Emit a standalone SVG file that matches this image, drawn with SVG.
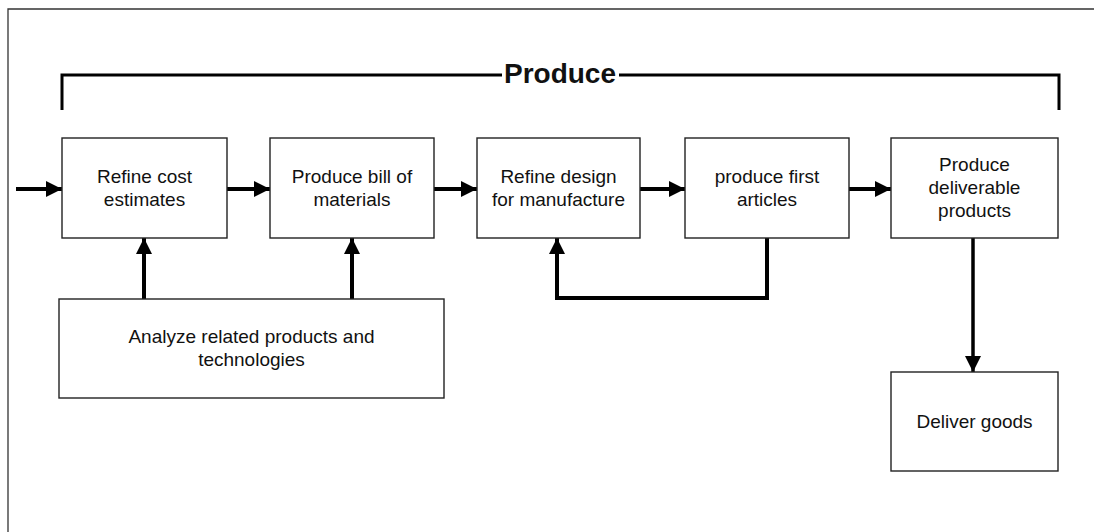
<svg xmlns="http://www.w3.org/2000/svg" width="1094" height="532" viewBox="0 0 1094 532">
<style>
.box{fill:#fff;stroke:#222;stroke-width:1.4}
.t{font-family:"Liberation Sans",Arial,Helvetica,sans-serif;font-size:19px;fill:#111;text-anchor:middle}
.title{font-family:"Liberation Sans",Arial,Helvetica,sans-serif;font-size:28px;font-weight:bold;fill:#111;text-anchor:middle}
.conn{fill:none;stroke:#000;stroke-width:4}
.frame{fill:none;stroke:#333;stroke-width:1.3}
.bracket{fill:none;stroke:#000;stroke-width:3}
</style>
<defs>
<marker id="ah" markerUnits="userSpaceOnUse" markerWidth="17" markerHeight="17" refX="16" refY="8" orient="auto" viewBox="0 0 17 17">
<path d="M0,0 L16,8 L0,16 Z" fill="#000"/>
</marker>
</defs>
<rect width="1094" height="532" fill="#fff"/>
<g id="frame">
<path class="frame" d="M8,532 L8,9 L1094,9"/>
</g>
<g id="produce-bracket">
<path class="bracket" d="M62,110 L62,75 L502,75"/>
<path class="bracket" d="M619,75 L1059,75 L1059,110"/>
<text class="title" x="560" y="83">Produce</text>
</g>
<g id="connectors">
<line class="conn" x1="16" y1="189" x2="62" y2="189" marker-end="url(#ah)"/>
<line class="conn" x1="227" y1="189" x2="270" y2="189" marker-end="url(#ah)"/>
<line class="conn" x1="434" y1="189" x2="477" y2="189" marker-end="url(#ah)"/>
<line class="conn" x1="640" y1="189" x2="685" y2="189" marker-end="url(#ah)"/>
<line class="conn" x1="849" y1="189" x2="891" y2="189" marker-end="url(#ah)"/>
<line class="conn" x1="144" y1="299" x2="144" y2="238" marker-end="url(#ah)"/>
<line class="conn" x1="352" y1="299" x2="352" y2="238" marker-end="url(#ah)"/>
<path class="conn" d="M767,238 L767,298 L557,298 L557,238" marker-end="url(#ah)"/>
<line class="conn" x1="973" y1="238" x2="973" y2="372" marker-end="url(#ah)" style="stroke-width:3.5"/>
</g>
<g id="refine-cost">
<rect class="box" x="62" y="138" width="165" height="100"/>
<text class="t" x="144.5" y="183">Refine cost</text>
<text class="t" x="144.5" y="206">estimates</text>
</g>
<g id="bill-of-materials">
<rect class="box" x="270" y="138" width="164" height="100"/>
<text class="t" x="352" y="183">Produce bill of</text>
<text class="t" x="352" y="206">materials</text>
</g>
<g id="refine-design">
<rect class="box" x="477" y="138" width="163" height="100"/>
<text class="t" x="558.5" y="183">Refine design</text>
<text class="t" x="558.5" y="206">for manufacture</text>
</g>
<g id="first-articles">
<rect class="box" x="685" y="138" width="164" height="100"/>
<text class="t" x="767" y="183">produce first</text>
<text class="t" x="767" y="206">articles</text>
</g>
<g id="deliverable-products">
<rect class="box" x="891" y="138" width="167" height="100"/>
<text class="t" x="974.5" y="171">Produce</text>
<text class="t" x="974.5" y="194">deliverable</text>
<text class="t" x="974.5" y="217">products</text>
</g>
<g id="analyze">
<rect class="box" x="59" y="299" width="385" height="99"/>
<text class="t" x="251.5" y="343">Analyze related products and</text>
<text class="t" x="251.5" y="366">technologies</text>
</g>
<g id="deliver-goods">
<rect class="box" x="891" y="372" width="167" height="99"/>
<text class="t" x="974.5" y="428">Deliver goods</text>
</g>
</svg>
